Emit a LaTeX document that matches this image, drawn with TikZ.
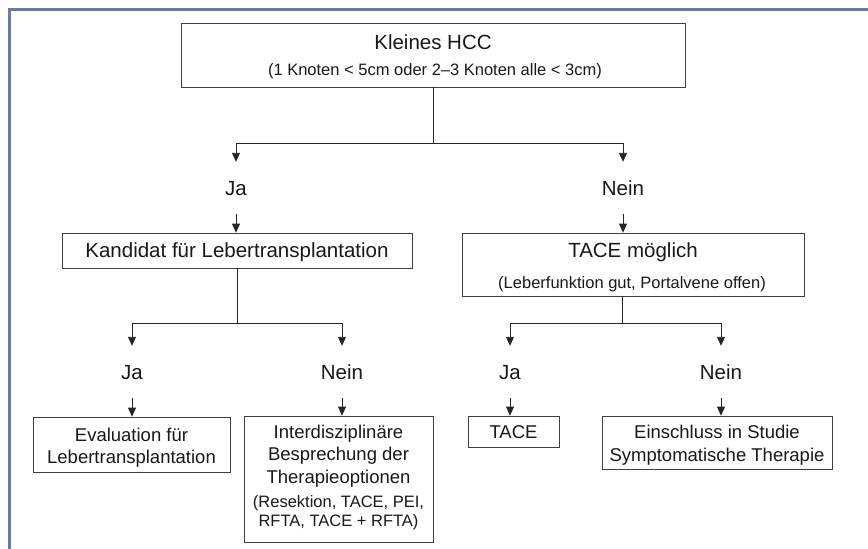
\documentclass[tikz,border=0pt]{standalone}
\usepackage{fontspec}
\setmainfont{Liberation Sans}
\usetikzlibrary{arrows.meta}
\definecolor{framecol}{RGB}{104,124,172}
\begin{document}
\begin{tikzpicture}[x=1pt,y=-1pt,
 box/.style={draw=black!75, line width=0.75pt, inner sep=0},
 tmain/.style={font=\fontsize{20.5}{24}\selectfont, inner sep=0, text height=14.7pt, text depth=0pt, text=black!90},
 tsub/.style={font=\fontsize{16.5}{20}\selectfont, inner sep=0, text height=11.8pt, text depth=0pt, text=black!90},
 tbot/.style={font=\fontsize{18.5}{22}\selectfont, inner sep=0, text height=13.2pt, text depth=0pt, text=black!90},
 lbl/.style={tmain, minimum height=52pt},
 conn/.style={draw=black!85, line width=0.9pt},
 arr/.style={conn, -{Triangle[length=9pt,width=8pt]}}]
\useasboundingbox (0,0) rectangle (868,549);
\fill[white] (0,0) rectangle (868,549);
% frame
\draw[framecol, line width=3pt] (9.5,549) -- (9.5,9.5) -- (868,9.5);

% top box
\node[box, minimum width=504pt, minimum height=64pt] (top) at (433,55) {};
\node[tmain] (topa) at (433,42) {Kleines HCC};
\node[tsub] (topb) at (435,70) {(1 Knoten < 5cm oder 2–3 Knoten alle < 3cm)};

\coordinate (j0) at (433,143);
\coordinate (j0l) at (236,143);
\coordinate (j0r) at (623,143);
\draw[conn] (top.south) -- (j0);
\draw[conn] (j0l) -- (j0r);
\node[lbl] (ja1) at (236,188) {Ja};
\node[lbl] (nein1) at (623,188) {Nein};
\draw[arr] (j0l) -- (ja1.north);
\draw[arr] (j0r) -- (nein1.north);

% level 1 boxes
\node[box, tmain, minimum width=350pt, minimum height=35pt] (kand) at (237,250.5) {Kandidat für Lebertransplantation};
\node[box, minimum width=342pt, minimum height=63pt] (tacem) at (633,264.5) {};
\node[tmain] (tacema) at (633,250) {TACE möglich};
\node[tsub] (tacemb) at (632,283) {(Leberfunktion gut, Portalvene offen)};
\draw[arr] (ja1.south) -- (ja1.south |- kand.north);
\draw[arr] (nein1.south) -- (nein1.south |- tacem.north);

% level 2 left
\coordinate (j1) at (237,323);
\coordinate (j1l) at (132,323);
\coordinate (j1r) at (342,323);
\draw[conn] (kand.south) -- (j1);
\draw[conn] (j1l) -- (j1r);
\node[lbl] (ja2) at (132,372) {Ja};
\node[lbl] (nein2) at (342,372) {Nein};
\draw[arr] (j1l) -- (ja2.north);
\draw[arr] (j1r) -- (nein2.north);

\node[box, minimum width=197pt, minimum height=55pt] (eval) at (131.5,444.5) {};
\node[tbot] (evala) at (131.5,435) {Evaluation für};
\node[tbot] (evalb) at (131.5,457) {Lebertransplantation};

\node[box, minimum width=189pt, minimum height=126pt] (inter) at (338.5,479) {};
\node[tbot] (intera) at (338.5,432) {Interdisziplinäre};
\node[tbot] (interb) at (338.5,454) {Besprechung der};
\node[tbot] (interc) at (338.5,477) {Therapieoptionen};
\node[tsub] (interd) at (338.5,502) {(Resektion, TACE, PEI,};
\node[tsub] (intere) at (338.5,521) {RFTA, TACE + RFTA)};
\draw[arr] (ja2.south) -- (ja2.south |- eval.north);
\draw[arr] (nein2.south) -- (nein2.south |- inter.north);

% level 2 right
\coordinate (j2) at (622,323);
\coordinate (j2l) at (510,323);
\coordinate (j2r) at (721,323);
\draw[conn] (tacem.south -| j2) -- (j2);
\draw[conn] (j2l) -- (j2r);
\node[lbl] (ja3) at (510,372) {Ja};
\node[lbl] (nein3) at (721,372) {Nein};
\draw[arr] (j2l) -- (ja3.north);
\draw[arr] (j2r) -- (nein3.north);

\node[box, tbot, minimum width=91pt, minimum height=31pt] (tace) at (513.5,431.5) {TACE};
\node[box, minimum width=230pt, minimum height=53pt] (ein) at (717,442.5) {};
\node[tbot] (eina) at (717,432) {Einschluss in Studie};
\node[tbot] (einb) at (717,455) {Symptomatische Therapie};
\draw[arr] (ja3.south) -- (ja3.south |- tace.north);
\draw[arr] (nein3.south) -- (nein3.south |- ein.north);
\end{tikzpicture}
\end{document}
